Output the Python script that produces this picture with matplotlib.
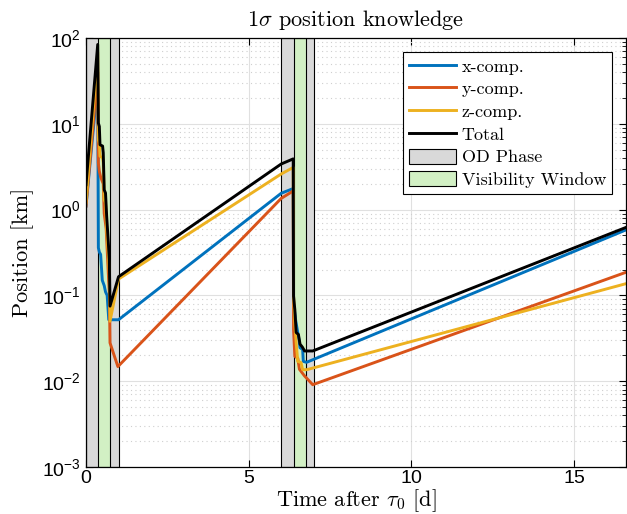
import matplotlib
matplotlib.use("Agg")
import matplotlib.pyplot as plt
from matplotlib.lines import Line2D
from matplotlib.patches import Patch
from matplotlib.ticker import LogLocator, NullFormatter

plt.rcParams['font.family'] = ['Liberation Sans', 'DejaVu Sans']
plt.rcParams['mathtext.fontset'] = 'cm'
plt.rcParams['axes.formatter.use_mathtext'] = True

# --- data (time in days, 1-sigma in km) ---
t_x = [0, 0.36, 0.38, 0.41, 0.45, 0.50, 0.56, 0.60, 0.65, 0.70, 1.0,
       6.0, 6.37, 6.38, 6.45, 6.55, 6.58, 6.66, 6.68, 6.78, 16.6]
s_x = [1.1, 30, 0.36, 0.32, 0.30, 0.15, 0.13, 0.11, 0.10, 0.052, 0.052,
       1.55, 1.76, 0.08, 0.05, 0.03, 0.0245, 0.0235, 0.017, 0.0166, 0.58]

t_y = [0, 0.36, 0.38, 0.41, 0.45, 0.53, 0.56, 0.62, 0.68, 0.72, 0.73, 0.738, 0.98,
       6.0, 6.37, 6.38, 6.42, 6.51, 6.56, 6.72, 6.97, 16.6]
s_y = [1.1, 40, 3.5, 2.8, 2.4, 2.0, 0.9, 0.6, 0.2, 0.1, 0.048, 0.028, 0.0148,
       1.35, 1.65, 0.04, 0.0195, 0.0185, 0.0138, 0.0115, 0.0091, 0.186]

t_z = [0, 0.36, 0.38, 0.41, 0.43, 0.51, 0.53, 0.56, 0.60, 0.635, 0.687, 0.717, 0.738, 1.0,
       6.0, 6.37, 6.38, 6.42, 6.46, 6.51, 6.61, 6.66, 6.78, 16.6]
s_z = [1.2, 68, 6.5, 6.0, 4.2, 4.0, 3.5, 1.3, 1.2, 0.6, 0.3, 0.18, 0.05, 0.155,
       2.6, 3.1, 0.098, 0.048, 0.028, 0.017, 0.0165, 0.0136, 0.0136, 0.137]

t_tot = [0, 0.36, 0.38, 0.41, 0.43, 0.51, 0.53, 0.56, 0.60, 0.635, 0.687, 0.717, 0.738, 1.0,
         6.0, 6.37, 6.38, 6.42, 6.46, 6.53, 6.58, 6.65, 6.72, 6.97, 16.6]
s_tot = [1.95, 84, 10.2, 9.3, 5.7, 5.5, 4.6, 1.7, 1.56, 0.84, 0.41, 0.26, 0.075, 0.165,
         3.4, 3.9, 0.098, 0.068, 0.037, 0.035, 0.027, 0.025, 0.0225, 0.0225, 0.62]

od_phases = [(0, 1.0), (6.0, 7.0)]
vis_windows = [(0.37, 0.74), (6.38, 6.75)]

c_x = '#0072BD'
c_y = '#D95319'
c_z = '#EDB120'
c_gray = '#d9d9d9'
c_green = '#d2f0c4'
serif = 'cmr10'

fig = plt.figure(figsize=(6.27, 5.14), dpi=100)
ax = fig.add_axes([86/627, 47/514, 540/627, 429/514])

for a, b in od_phases:
    ax.axvspan(a, b, facecolor=c_gray, edgecolor='k', lw=0.8, zorder=1.5)
for a, b in vis_windows:
    ax.axvspan(a, b, facecolor=c_green, edgecolor='k', lw=0.8, zorder=1.6)

lw = 2.1
ax.plot(t_x, s_x, color=c_x, lw=lw, zorder=3)
ax.plot(t_y, s_y, color=c_y, lw=lw, zorder=3)
ax.plot(t_z, s_z, color=c_z, lw=lw, zorder=3)
ax.plot(t_tot, s_tot, color='k', lw=lw, zorder=3)

ax.set_yscale('log')
ax.set_xlim(0, 16.6)
ax.set_ylim(1e-3, 1e2)
ax.set_xticks([0, 5, 10, 15])
ax.yaxis.set_major_locator(LogLocator(base=10, numticks=10))
ax.yaxis.set_minor_locator(LogLocator(base=10, subs=range(2, 10), numticks=20))
ax.yaxis.set_minor_formatter(NullFormatter())

ax.set_axisbelow(True)
ax.grid(True, which='major', color='#e0e0e0', lw=0.8)
ax.yaxis.grid(True, which='minor', color='#cfcfcf', ls=(0, (1, 3)), lw=0.8)

ax.tick_params(which='both', direction='in', top=True, right=True, labelsize=14)
ax.tick_params(which='major', length=5, width=0.8)
ax.tick_params(axis='x', pad=2)
ax.tick_params(which='minor', length=3, width=0.6)
for sp in ax.spines.values():
    sp.set_linewidth(0.9)
    sp.set_zorder(5)

ax.set_title(r'1$\sigma$ position knowledge', fontfamily=serif, fontsize=16, pad=9)
ax.set_xlabel(r'Time after $\tau_0$ [d]', fontfamily=serif, fontsize=16, labelpad=0)
ax.set_ylabel('Position [km]', fontfamily=serif, fontsize=16, labelpad=6)

handles = [
    Line2D([], [], color=c_x, lw=lw),
    Line2D([], [], color=c_y, lw=lw),
    Line2D([], [], color=c_z, lw=lw),
    Line2D([], [], color='k', lw=lw),
    Patch(facecolor=c_gray, edgecolor='k', lw=0.8),
    Patch(facecolor=c_green, edgecolor='k', lw=0.8),
]
labels = ['x-comp.', 'y-comp.', 'z-comp.', 'Total', 'OD Phase', 'Visibility Window']
leg = ax.legend(handles, labels, loc='upper right', prop={'family': serif, 'size': 13},
                fancybox=False, framealpha=1, edgecolor='k', handlelength=2.6,
                handleheight=0.9, labelspacing=0.33, handletextpad=0.3,
                borderpad=0.35, borderaxespad=0.75)
leg.get_frame().set_linewidth(0.8)
leg.set_zorder(6)

fig.savefig('out.png', dpi=100)
